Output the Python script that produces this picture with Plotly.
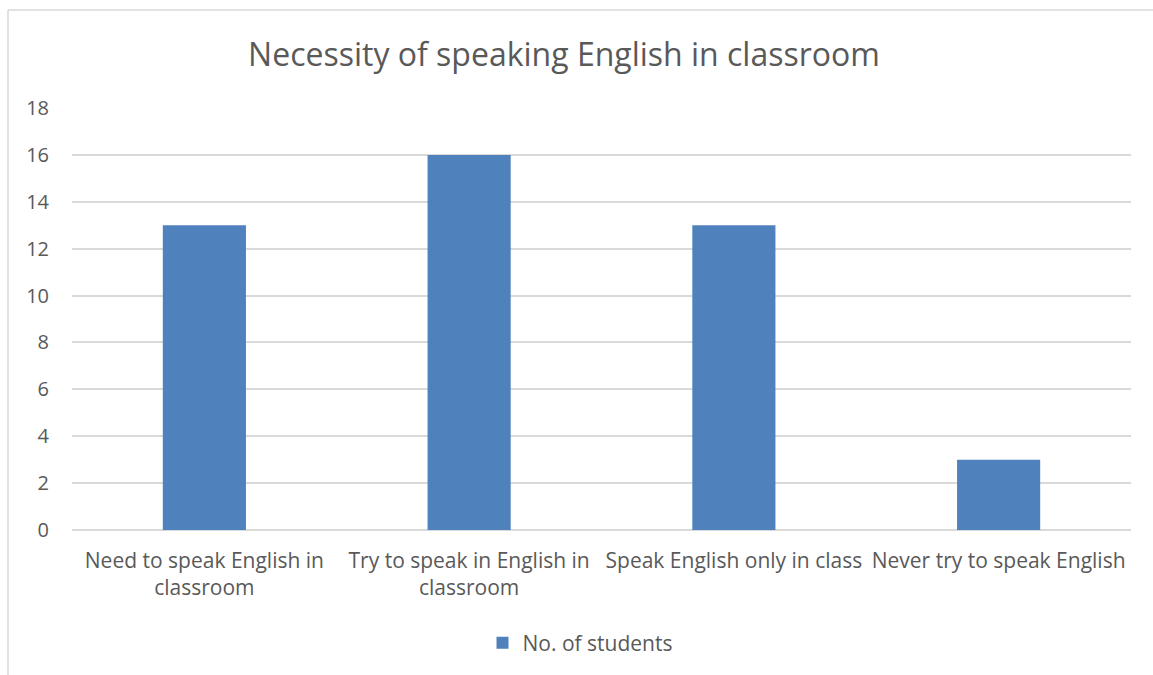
import plotly.graph_objects as go

categories = ["Need to speak English in<br>classroom", "Try to speak in English in<br>classroom",
              "Speak English only in class", "Never try to speak English"]
values = [13, 16, 13, 3]
series_name = "No. of students"
y_ticks = [0, 2, 4, 6, 8, 10, 12, 14, 16, 18]

W, H = 1153, 675
L, R, T, B = 72, 1131, 108, 530
pw, ph = R - L, B - T

FONT = "Open Sans"
TXT = "#595959"
GRID = "#d9d9d9"

fig = go.Figure()
fig.add_trace(go.Bar(x=categories, y=values, name=series_name, marker_color="#4f81bd",
                     marker_line_width=0, width=0.314, showlegend=True))

def px_x(x):
    return (x - L) / pw

def px_y(y):
    return (B - y) / ph

fig.update_layout(
    width=W, height=H,
    margin=dict(l=L, r=W - R, t=T, b=H - B, autoexpand=False),
    paper_bgcolor="white", plot_bgcolor="white",
    font=dict(family=FONT, color=TXT),
    title=dict(text="Necessity of speaking English in classroom", x=564 / W, xanchor="center",
               xref="container", yref="container", y=1 - 55 / H, yanchor="middle",
               font=dict(size=32, color=TXT, family=FONT)),
    xaxis=dict(showgrid=False, showline=False, zeroline=False, ticks="",
               ticklabelstandoff=16,
               tickfont=dict(size=21, color=TXT, family=FONT)),
    yaxis=dict(range=[0, 18], tickvals=y_ticks, showgrid=True, gridcolor=GRID, gridwidth=1.5,
               zeroline=True, zerolinecolor=GRID, zerolinewidth=1.5, showline=False,
               ticks="", ticklabelstandoff=22,
               tickfont=dict(size=20, color=TXT, family=FONT)),
    legend=dict(orientation="h", x=px_x(580), xanchor="center", y=px_y(643), yanchor="middle",
                itemwidth=30, font=dict(size=21, color=TXT, family=FONT)),
    bargap=0.686,
    shapes=[
        dict(type="line", xref="paper", yref="paper", x0=px_x(8), x1=px_x(8),
             y0=px_y(10), y1=px_y(680), line=dict(color=GRID, width=1.5)),
        dict(type="line", xref="paper", yref="paper", x0=px_x(8), x1=px_x(1160),
             y0=px_y(10), y1=px_y(10), line=dict(color=GRID, width=1.5)),
    ],
)

fig.write_html("out.html")
